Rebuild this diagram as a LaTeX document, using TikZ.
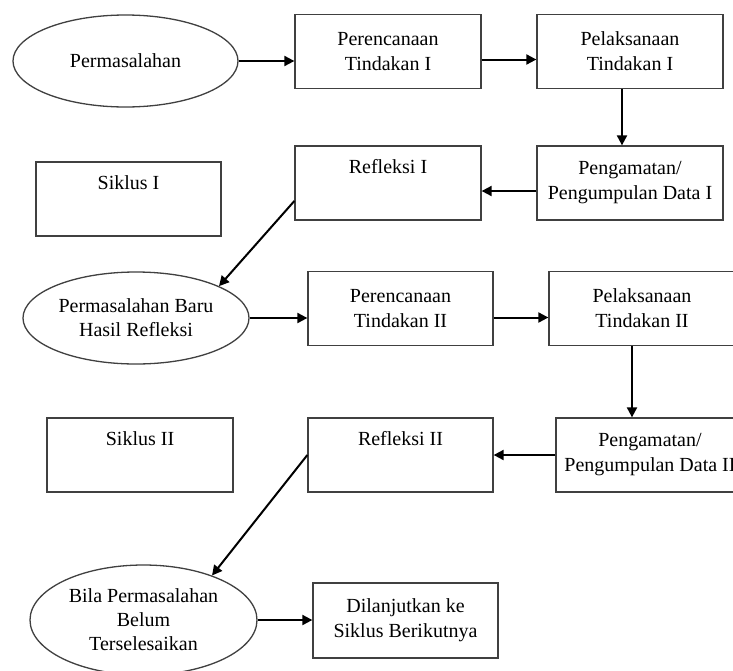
\documentclass[tikz,border=0pt]{standalone}
\usepackage{fontspec}
\setmainfont{Liberation Serif}
\usepackage{tikz}
\usetikzlibrary{shapes.geometric,arrows.meta,calc}

\begin{document}
\begin{tikzpicture}[x=1pt,y=-1pt,
        stepbox/.style={draw=black!75, line width=1.3pt, rectangle,
              minimum width=186pt, minimum height=74pt, inner sep=0pt,
              align=center, font=\fontsize{20}{25}\selectfont},
        problem/.style={draw=black!75, line width=1.3pt, ellipse,
              inner sep=0pt, align=center, font=\fontsize{20}{24}\selectfont},
        flow/.style={-{Triangle[length=10pt,width=10pt]}, line width=2pt, black}]
        \clip (0,0) rectangle (733,670);
        \fill[white] (0,0) rectangle (733,670);

        % siklus I
        \node[problem, minimum width=225pt, minimum height=92pt] (perm) at (125.5,61) {Permasalahan};
        \node[stepbox] (ren1) at (388,51.5) {Perencanaan\\Tindakan I};
        \node[stepbox] (pel1) at (630,51.5) {Pelaksanaan\\Tindakan I};
        \node[stepbox] (peng1) at (630,183) {Pengamatan/\\Pengumpulan Data I};
        \node[stepbox] (ref1) at (388,183) {Refleksi I\\\strut};
        \node[stepbox, minimum width=185pt] (sik1) at (128.5,199) {Siklus I\\\strut};

        % siklus II
        \node[problem, minimum width=226pt, minimum height=92pt] (baru) at (136,318) {Permasalahan Baru\\Hasil Refleksi};
        \node[stepbox, minimum width=185pt] (ren2) at (400.5,308.5) {Perencanaan\\Tindakan II};
        \node[stepbox] (pel2) at (642,308.5) {Pelaksanaan\\Tindakan II};
        \node[stepbox, minimum width=188pt] (peng2) at (650,455) {Pengamatan/\\Pengumpulan Data II};
        \node[stepbox, minimum width=185pt] (ref2) at (400.5,455) {Refleksi II\\\strut};
        \node[stepbox] (sik2) at (140,455) {Siklus II\\\strut};

        % lanjut
        \node[problem, minimum width=227pt, minimum height=110pt] (bila) at (143.5,620) {Bila Permasalahan\\Belum\\Terselesaikan};
        \node[stepbox, minimum width=185pt, minimum height=75pt] (lanjut) at (405.5,620.5) {Dilanjutkan ke\\Siklus Berikutnya};

        \draw[flow] (perm.east) -- (perm.east -| ren1.west);
        \draw[flow] ([yshift=-8pt]ren1.east) -- ([yshift=-8pt]pel1.west);
        \draw[flow] ([xshift=-8pt]pel1.south) -- ([xshift=-8pt]peng1.north);
        \draw[flow] ([yshift=-8pt]peng1.west) -- ([yshift=-8pt]ref1.east);
        \draw[flow] ([yshift=-18pt]ref1.west) -- (baru.21);

        \draw[flow] (baru.east) -- (baru.east -| ren2.west);
        \draw[flow] ([yshift=-9pt]ren2.east) -- ([yshift=-9pt]pel2.west);
        \draw[flow] ([xshift=-10pt]pel2.south) -- ([xshift=-10pt]pel2.south |- peng2.north);
        \draw[flow] (peng2.west) -- (peng2.west -| ref2.east);
        \draw[flow] (ref2.west) -- (bila.33);

        \draw[flow] (bila.east) -- (bila.east -| lanjut.west);
      \end{tikzpicture}
\end{document}
